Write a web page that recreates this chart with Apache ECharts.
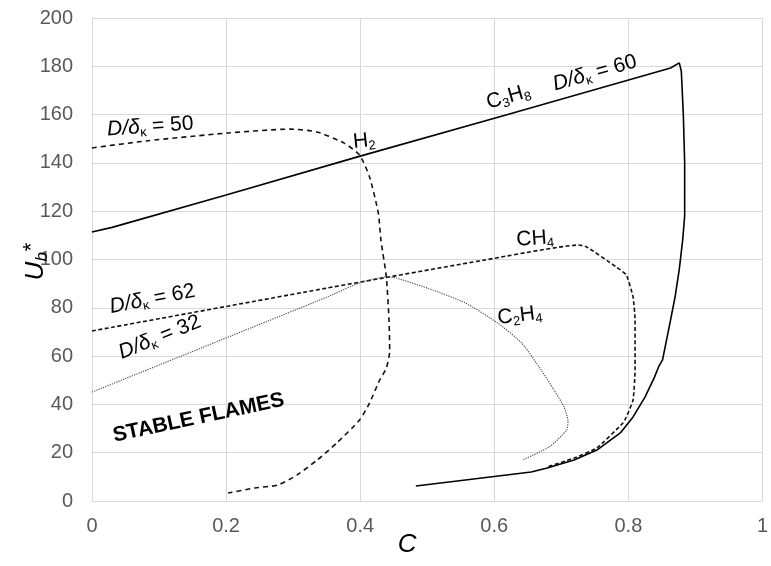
<!DOCTYPE html>
<html><head><meta charset="utf-8">
<script src="https://cdn.jsdelivr.net/npm/echarts@6/dist/echarts.min.js"></script>
<style>html,body{margin:0;padding:0;background:#fff}#c{width:771px;height:566px}</style>
</head><body><div id="c"></div>
<script>
// ---- data (C, Ub*) ----
const c3h8C = [0, 0.03, 0.2, 0.4, 0.62, 0.863, 0.876, 0.879, 0.882, 0.884, 0.884, 0.881, 0.876, 0.870, 0.863, 0.851, 0.845, 0.839, 0.825, 0.807, 0.788, 0.753, 0.719, 0.679, 0.655, 0.557, 0.483];
const c3h8U = [111.4, 113.3, 126.7, 142.8, 160.0, 179.3, 181.4, 178, 160, 140, 118, 108, 96, 85, 75, 58.4, 55.5, 51.3, 43.1, 34.8, 28.2, 21.1, 17.0, 13.7, 12.0, 8.7, 6.2];

const h2C = [0, 0.081, 0.203, 0.296, 0.336, 0.376, 0.399, 0.414, 0.427, 0.431, 0.439, 0.443, 0.444, 0.439, 0.429, 0.413, 0.399, 0.365, 0.336, 0.306, 0.277, 0.243, 0.203];
const h2U = [146.2, 149.1, 152.4, 154.0, 152.8, 148.2, 143.3, 134.2, 119.3, 108, 92.8, 75, 62, 55, 50, 40, 33.5, 24, 17, 10.8, 6.6, 5.4, 3.3];

const ch4C = [0, 0.351, 0.586, 0.726, 0.738, 0.782, 0.797, 0.807, 0.81, 0.81, 0.807, 0.797, 0.792, 0.753, 0.719, 0.679];
const ch4U = [70.4, 88.2, 99.8, 106.0, 105.2, 96.9, 93.6, 84.5, 75, 54.2, 41.8, 34.8, 32.3, 22.0, 17.8, 14.1];

const c2h4C = [0, 0.351, 0.399, 0.439, 0.454, 0.508, 0.557, 0.605, 0.641, 0.67, 0.689, 0.704, 0.71, 0.708, 0.682, 0.642];
const c2h4U = [45.1, 84.5, 90.3, 92.8, 92.3, 87.4, 82.0, 73.7, 65.4, 54.2, 46.0, 39.0, 33.0, 29.4, 22.4, 17.0];

const xMin = 0, xMax = 1, xStep = 0.2;
const yMin = 0, yMax = 200, yStep = 20;

const ratioValues = ['50', '60', '62', '32'];

// ---- styling / layout ----
const FF = '"Liberation Sans", Arial, sans-serif';
const pair = (xs, ys) => xs.map((x, i) => [x, ys[i]]);

const chart = echarts.init(document.getElementById('c'), null, {renderer: 'canvas'});

function lineSeries(name, xs, ys, style) {
  return {
    name, type: 'line', data: pair(xs, ys), showSymbol: false, symbol: 'none',
    smooth: style.smooth || 0, lineStyle: style, z: style.z || 3, animation: false
  };
}

chart.setOption({
  animation: false,
  grid: {left: 92, right: 0, top: 18, bottom: 65, containLabel: false},
  xAxis: {
    type: 'value', min: xMin, max: xMax, interval: xStep,
    axisLine: {show: true, lineStyle: {color: '#d9d9d9', width: 1}},
    axisTick: {show: false},
    splitLine: {show: true, lineStyle: {color: '#d9d9d9', width: 1}},
    axisLabel: {color: '#595959', fontSize: 20, fontFamily: FF, margin: 15, hideOverlap: false, showMaxLabel: true}
  },
  yAxis: {
    type: 'value', min: yMin, max: yMax, interval: yStep,
    axisLine: {show: true, lineStyle: {color: '#d9d9d9', width: 1}},
    axisTick: {show: false},
    splitLine: {show: true, lineStyle: {color: '#d9d9d9', width: 1}},
    axisLabel: {color: '#595959', fontSize: 20, fontFamily: FF, margin: 19}
  },
  series: [
    lineSeries('C3H8', c3h8C, c3h8U, {color: '#000', width: 1.6, type: 'solid', z: 4}),
    lineSeries('H2', h2C, h2U, {color: '#111', width: 1.6, type: [5, 4], smooth: 0.2}),
    lineSeries('CH4', ch4C, ch4U, {color: '#111', width: 1.6, type: [4, 2.5], smooth: 0.15}),
    lineSeries('C2H4', c2h4C, c2h4U, {color: '#444', width: 1.1, type: [1.2, 1.2], smooth: 0.2})
  ]
});

// ---- annotations (placed in data coordinates) ----
const base = {fontSize: 21, fontFamily: FF, lineHeight: 24, verticalAlign: 'middle'};
const rich = {
  n: Object.assign({}, base),
  i: Object.assign({}, base, {fontStyle: 'italic'}),
  s: {fontSize: 13, fontFamily: FF, lineHeight: 13, verticalAlign: 'bottom'}
};
const ratio = v => '{i|D/δ}{s|κ}{n| = ' + v + '}';

const notes = [
  {c: 0.087, u: 155.0, rot: 4, text: ratio(ratioValues[0])},
  {c: 0.406, u: 149.0, rot: 6, text: '{n|H}{s|2}'},
  {c: 0.621, u: 167.3, rot: 16, text: '{n|C}{s|3}{n|H}{s|8}'},
  {c: 0.750, u: 177.2, rot: 16, text: ratio(ratioValues[1])},
  {c: 0.661, u: 108.6, rot: 4, text: '{n|CH}{s|4}'},
  {c: 0.638, u: 76.8, rot: 7, text: '{n|C}{s|2}{n|H}{s|4}'},
  {c: 0.090, u: 83.6, rot: 11, text: ratio(ratioValues[2])},
  {c: 0.101, u: 67.8, rot: 22, text: ratio(ratioValues[3])}
];

const graphics = notes.map(n => {
  const p = chart.convertToPixel({gridIndex: 0}, [n.c, n.u]);
  return {
    type: 'text', x: p[0], y: p[1], rotation: n.rot * Math.PI / 180, z: 10,
    style: {text: n.text, rich: rich, fill: '#000', align: 'center', verticalAlign: 'middle', fontSize: 21, fontFamily: FF}
  };
});

const sp = chart.convertToPixel({gridIndex: 0}, [0.159, 34.4]);
graphics.push({
  type: 'text', x: sp[0], y: sp[1], rotation: 12 * Math.PI / 180, z: 10,
  style: {text: 'STABLE FLAMES', fill: '#000', align: 'center', verticalAlign: 'middle',
          fontSize: 21, fontWeight: 'bold', fontFamily: FF}
});

// axis titles
const yp = chart.convertToPixel({gridIndex: 0}, [0, 100]);
graphics.push({
  type: 'text', x: 36, y: yp[1] + 2, rotation: Math.PI / 2, z: 10,
  style: {
    text: '{i|U}{s|b}{t|*}', align: 'center', verticalAlign: 'middle', fill: '#000',
    rich: {
      i: {fontSize: 26, fontStyle: 'italic', fontFamily: FF, lineHeight: 30, verticalAlign: 'middle'},
      s: {fontSize: 17, fontStyle: 'italic', fontFamily: FF, lineHeight: 17, verticalAlign: 'bottom'},
      t: {fontSize: 22, fontFamily: FF, lineHeight: 22, verticalAlign: 'top', padding: [0, 0, 0, 1]}
    }
  }
});
const xp = chart.convertToPixel({gridIndex: 0}, [0.47, 0]);
graphics.push({
  type: 'text', x: xp[0], y: 545, z: 10,
  style: {text: 'C', align: 'center', verticalAlign: 'middle', fill: '#000',
          fontSize: 26, fontStyle: 'italic', fontFamily: FF}
});

chart.setOption({graphic: graphics});
</script></body></html>
